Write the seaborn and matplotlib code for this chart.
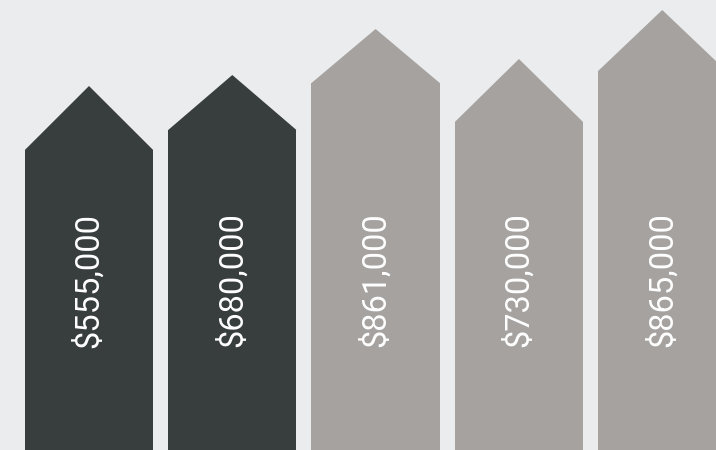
import seaborn as sns
import matplotlib.pyplot as plt
from matplotlib.patches import Polygon
import pandas as pd

# data
items = ["1", "2", "3", "4", "5"]
prices = [555000, 680000, 861000, 730000, 865000]
# shoulder (top of the box) and peak (tip of the arrow) heights, in picture units
shoulder = [300, 320, 367, 328, 379]
peak = [364, 375, 421, 391, 440]
colors = ["#383e3e", "#383e3e", "#a5a2a0", "#a5a2a0", "#a5a2a0"]

df = pd.DataFrame({"item": items, "price": prices, "shoulder": shoulder, "peak": peak})

sns.set_theme(style="white")
plt.rcParams['font.family'] = ['Roboto', 'DejaVu Sans']

fig = plt.figure(figsize=(7.16, 4.5), dpi=100)
fig.patch.set_facecolor("#ebecee")
ax = fig.add_axes([0, 0, 1, 1])
ax.set_facecolor("#ebecee")

sns.barplot(data=df, x="item", y="shoulder", hue="item", palette=colors,
            width=0.895, saturation=1, legend=False, ax=ax, linewidth=0)

# arrow heads on top of every bar, price label inside
for i, bar in enumerate(ax.patches):
    x0 = bar.get_x()
    w = bar.get_width()
    h = bar.get_height()
    tri = Polygon([[x0, h], [x0 + w / 2, df["peak"][i]], [x0 + w, h]], closed=True,
                  facecolor=colors[i], edgecolor="none")
    ax.add_patch(tri)
    ax.text(x0 + w / 2, 170, "${:,}".format(int(df["price"][i])),
            rotation=90, ha="center", va="center", color="white",
            fontsize=23.5, fontweight="normal")

ax.set_xlim(-0.621, 4.375)
ax.set_ylim(0, 450)
ax.axis("off")

plt.savefig("out.png", dpi=100, facecolor=fig.get_facecolor())
